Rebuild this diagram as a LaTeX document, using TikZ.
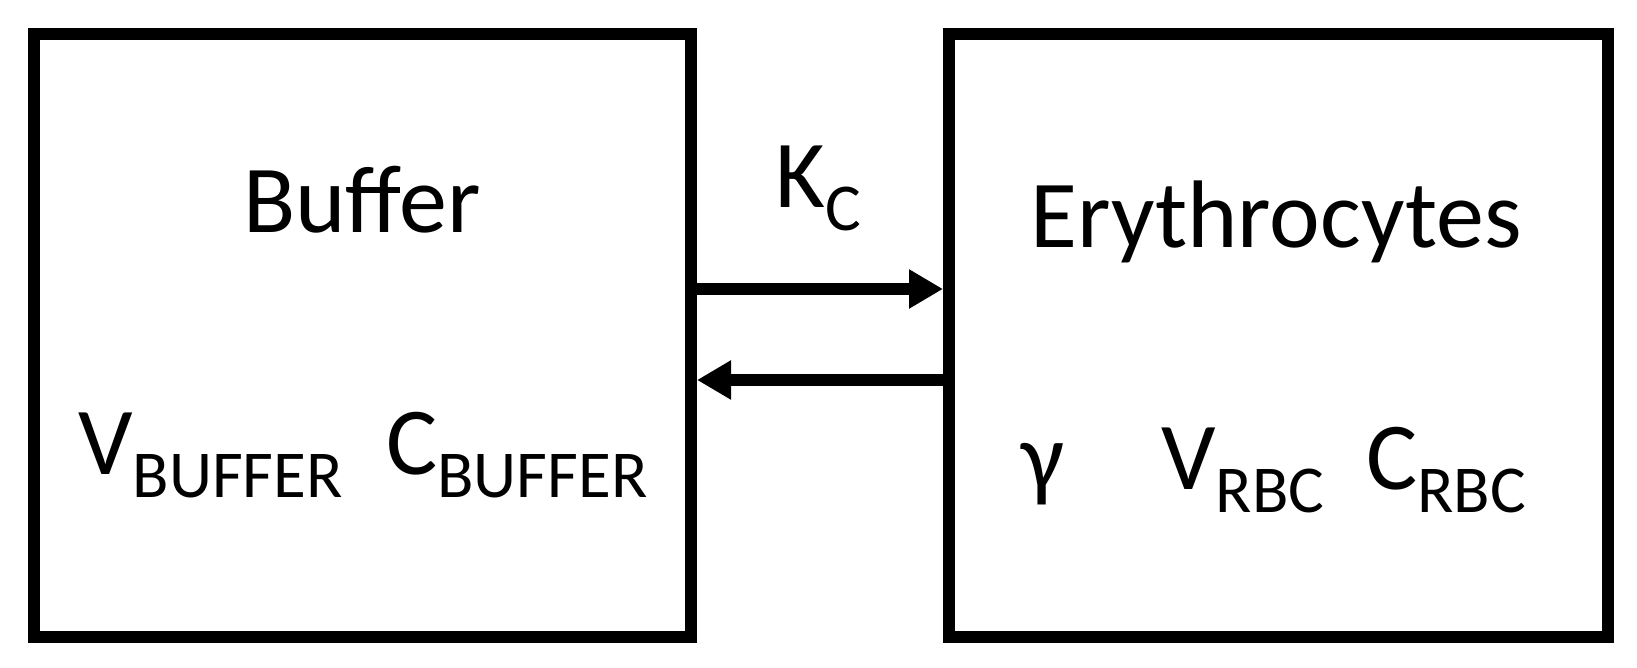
\documentclass[tikz,border=0pt]{standalone}
\usepackage{fontspec}
\setmainfont{Carlito}
\usetikzlibrary{arrows.meta}
\newcommand{\lowtxt}[1]{\raisebox{-23pt}{\fontsize{67}{72}\selectfont #1}}
\tikzset{
  compartment/.style = {draw = black, line width = 12pt, inner sep = 0pt, minimum height = 602.5pt},
  lbl/.style = {inner sep = 0pt, font = \fontsize{96}{115}\selectfont},
  flow/.style = {line width = 12pt, -{Triangle[length = 34pt, width = 37pt]}}
}
\begin{document}
\begin{tikzpicture}[x = 1pt, y = 1pt]
\useasboundingbox (0,0) rectangle (1637,668);
\node[compartment, minimum width = 657pt] (buffer) at (362.5,332.25) {};
\node[compartment, minimum width = 658.5pt] (rbc) at (1278.25,332.25) {};
\node[lbl, anchor = base] (buftitle) at (362,435) {Buffer};
\node[lbl, anchor = base] (rbctitle) at (1276,420) {Erythrocytes};
\node[lbl, anchor = base] (kc) at (818,460) {K\lowtxt{C}};
\node[lbl, anchor = base west] (vbuf) at (78,193) {V\lowtxt{BUFFER}};
\node[lbl, anchor = base west] (cbuf) at (386,193) {C\lowtxt{BUFFER}};
\node[lbl, anchor = base west] (gam) at (1021,178) {γ};
\node[lbl, anchor = base west] (vrbc) at (1161,178) {V\lowtxt{RBC}};
\node[lbl, anchor = base west] (crbc) at (1366,178) {C\lowtxt{RBC}};
\draw[flow] ([yshift = 46.75pt]buffer.east) -- ([yshift = 46.75pt]rbc.west);
\draw[flow] ([yshift = -44.25pt]rbc.west) -- ([yshift = -44.25pt]buffer.east);
\end{tikzpicture}
\end{document}
